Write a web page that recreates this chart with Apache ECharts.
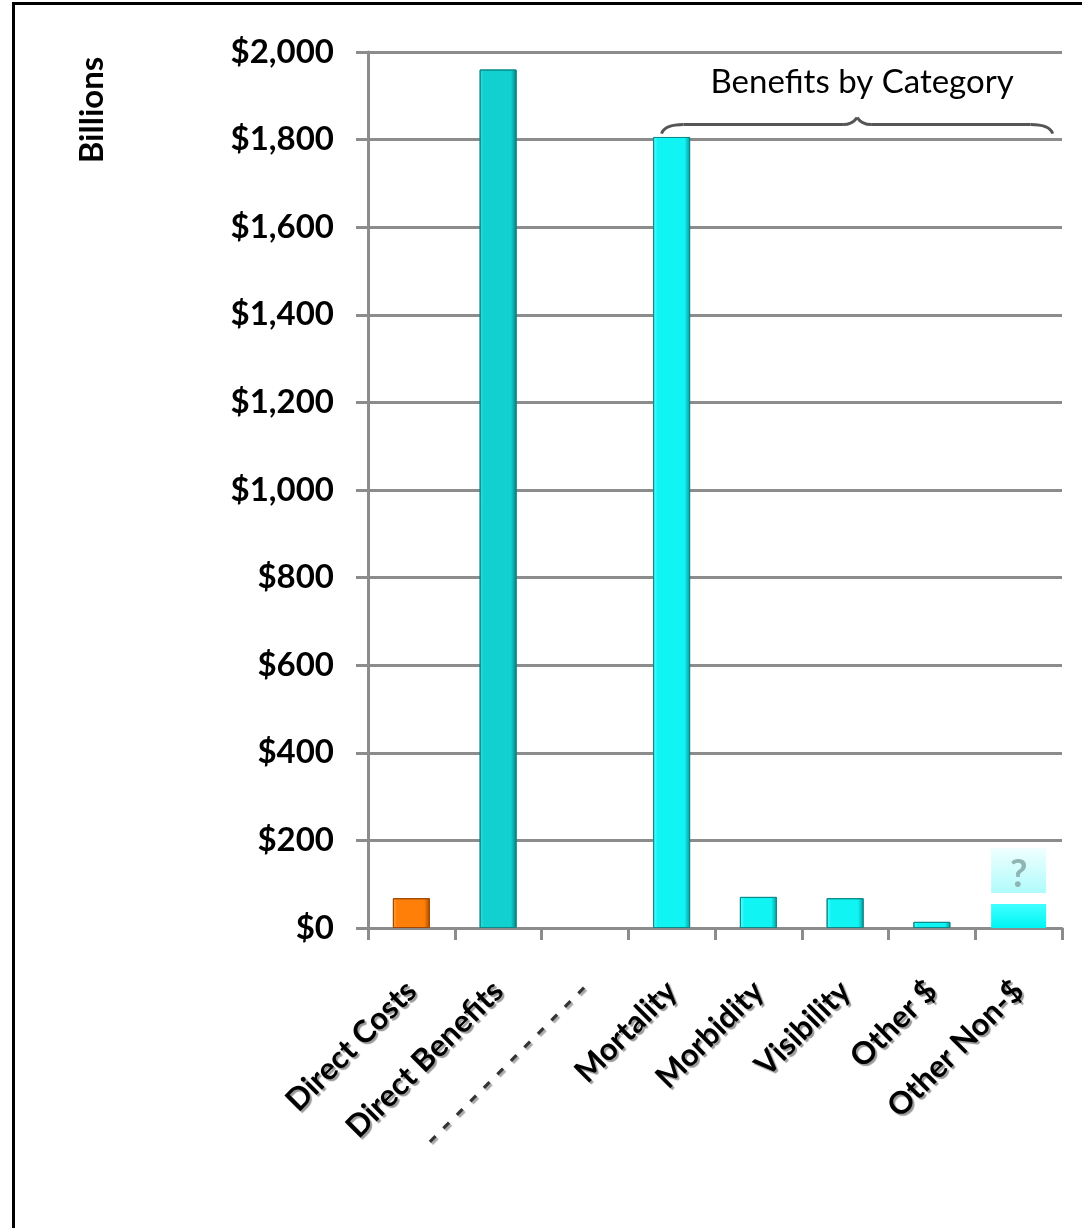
<!DOCTYPE html>
<html>
<head>
<meta charset="utf-8">
<style>
html, body { margin: 0; padding: 0; background: #fff; }
#chart { width: 1082px; height: 1228px; }
</style>
<script src="https://cdn.jsdelivr.net/npm/echarts@6/dist/echarts.min.js"></script>
</head>
<body>
<div id="chart"></div>
<script>
// categories and values (billions of dollars)
var categories = ['Direct Costs', 'Direct Benefits', '- - - - - - - - - - - -', 'Mortality', 'Morbidity', 'Visibility', 'Other $', 'Other Non-$'];
var barValues = [68, 1960, null, 1806, 71, 68, 14, null];
var nonDollarValues = [null, null, null, null, null, null, null, 55];
var questionGap = [null, null, null, null, null, null, null, 25];
var questionBox = [null, null, null, null, null, null, null, 103];

function hGrad(light, mid, dark) {
    return new echarts.graphic.LinearGradient(0, 0, 1, 0, [
        { offset: 0, color: light },
        { offset: 0.12, color: mid },
        { offset: 0.85, color: mid },
        { offset: 1, color: dark }
    ]);
}
var orangeFill = hGrad('#ffa040', '#ff7f08', '#a84c00');
var tealFill = hGrad('#30e0e0', '#10d0d0', '#087a7a');
var cyanFill = hGrad('#60ffff', '#10f4f4', '#0a9a9a');

var barData = barValues.map(function (v, i) {
    var fill = i === 0 ? orangeFill : (i === 1 ? tealFill : cyanFill);
    var border = i === 0 ? '#a04800' : '#0a8a8a';
    return { value: v, itemStyle: { color: fill, borderColor: border, borderWidth: 1 } };
});

var chart = echarts.init(document.getElementById('chart'));
var labelFont = 'Lato, Open Sans, sans-serif';

var option = {
    backgroundColor: '#fff',
    animation: false,
    grid: { left: 368, right: 20, top: 52, bottom: 300, containLabel: false },
    xAxis: [{
        type: 'category',
        data: categories,
        axisLine: { lineStyle: { color: '#8c8c8c', width: 3 } },
        axisTick: { show: true, length: 12, lineStyle: { color: '#8c8c8c', width: 3 } },
        axisLabel: {
            rotate: 45,
            margin: 58,
            interval: 0,
            fontFamily: labelFont,
            fontWeight: 'bold',
            fontSize: 31,
            color: '#000',
            textShadowColor: '#999',
            textShadowOffsetX: 2,
            textShadowOffsetY: 2,
            textShadowBlur: 1,
            formatter: function (v) {
                return v.charAt(0) === '-' ? '{dash|' + v + '}' : v;
            },
            rich: {
                dash: {
                    fontFamily: labelFont, fontWeight: 'bold', fontSize: 31, color: '#333',
                    textShadowColor: '#aaa', textShadowOffsetX: 2, textShadowOffsetY: 2
                }
            }
        }
    }, {
        type: 'category',
        data: categories,
        show: false
    }],
    yAxis: {
        type: 'value',
        min: 0,
        max: 2000,
        interval: 200,
        axisLine: { show: true, lineStyle: { color: '#8c8c8c', width: 3 } },
        axisTick: { show: true, length: 12, lineStyle: { color: '#8c8c8c', width: 3 } },
        splitLine: { lineStyle: { color: '#8c8c8c', width: 3 } },
        axisLabel: {
            margin: 34,
            fontFamily: labelFont,
            fontWeight: 'bold',
            fontSize: 33,
            color: '#000',
            textShadowColor: '#bbb',
            textShadowOffsetX: 1,
            textShadowOffsetY: 1,
            formatter: function (v) {
                return '$' + v.toLocaleString('en-US');
            }
        }
    },
    series: [{
        type: 'bar',
        xAxisIndex: 0,
        barWidth: 37,
        data: barData
    }, {
        type: 'bar',
        xAxisIndex: 1,
        stack: 'nd',
        barWidth: 55,
        itemStyle: { color: new echarts.graphic.LinearGradient(0, 0, 0, 1, [
            { offset: 0, color: '#40ffff' }, { offset: 1, color: '#00f4f4' }]) },
        data: nonDollarValues
    }, {
        type: 'bar',
        xAxisIndex: 1,
        stack: 'nd',
        barWidth: 55,
        itemStyle: { color: 'rgba(0,0,0,0)' },
        data: questionGap
    }, {
        type: 'bar',
        xAxisIndex: 1,
        stack: 'nd',
        barWidth: 55,
        itemStyle: { color: new echarts.graphic.LinearGradient(0, 0, 0, 1, [
            { offset: 0, color: '#f0ffff' }, { offset: 1, color: '#b0fbfb' }]) },
        label: {
            show: true,
            position: 'inside',
            formatter: '?',
            fontFamily: labelFont,
            fontWeight: 'bold',
            fontSize: 38,
            color: '#8fb4b4',
            offset: [0, 4]
        },
        data: questionBox
    }]
};
chart.setOption(option);

// brace over the benefit categories, placed from the axes
var xL = chart.convertToPixel({ xAxisIndex: 0 }, 'Mortality') - 10;
var xR = chart.convertToPixel({ xAxisIndex: 0 }, 'Other Non-$') + 34;
var yB = chart.convertToPixel({ yAxisIndex: 0 }, 1800) - 15;
var xM = (xL + xR) / 2;
var braceStyle = { stroke: '#555', lineWidth: 3, fill: null };

function curve(x1, y1, cx, cy, x2, y2) {
    return {
        type: 'bezierCurve',
        shape: { x1: x1, y1: y1, cpx1: cx, cpy1: cy, x2: x2, y2: y2 },
        style: braceStyle
    };
}
function seg(x1, y1, x2, y2) {
    return { type: 'line', shape: { x1: x1, y1: y1, x2: x2, y2: y2 }, style: braceStyle };
}

chart.setOption({
    graphic: [
        curve(xL, yB + 9, xL + 3, yB, xL + 22, yB),
        seg(xL + 22, yB, xM - 14, yB),
        curve(xM - 14, yB, xM - 5, yB, xM, yB - 7),
        curve(xM, yB - 7, xM + 5, yB, xM + 14, yB),
        seg(xM + 14, yB, xR - 22, yB),
        curve(xR - 22, yB, xR - 3, yB, xR, yB + 9),
    {
        type: 'text',
        x: xM + 5,
        y: 82,
        style: {
            text: 'Benefits by Category',
            fontFamily: labelFont,
            fontSize: 33,
            fill: '#000',
            align: 'center',
            verticalAlign: 'middle'
        }
    }, {
        type: 'text',
        x: 92,
        y: 110,
        rotation: Math.PI / 2,
        style: {
            text: 'Billions',
            fontFamily: labelFont,
            fontWeight: 'bold',
            fontSize: 33,
            fill: '#000',
            align: 'center',
            verticalAlign: 'middle'
        }
    }, {
        type: 'rect',
        shape: { x: 12, y: 2, width: 3, height: 1226 },
        style: { fill: '#000' }
    }, {
        type: 'rect',
        shape: { x: 12, y: 2, width: 1070, height: 3 },
        style: { fill: '#000' }
    }]
});
</script>
</body>
</html>
